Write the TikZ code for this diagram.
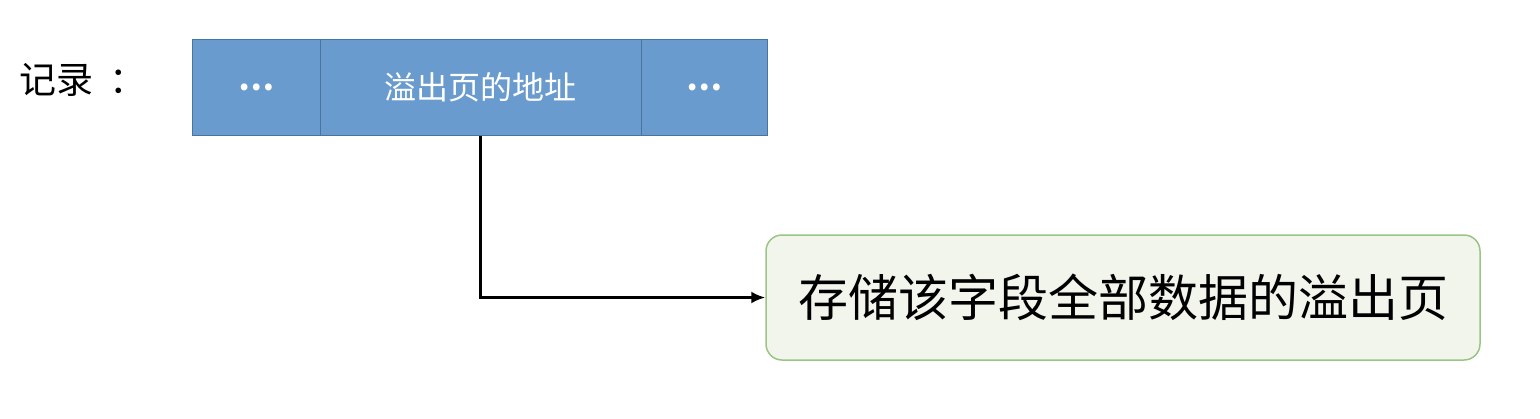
\documentclass[tikz,border=0pt]{standalone}
\usepackage{fontspec}
\newfontfamily\cjk{Noto Sans CJK SC}
\usetikzlibrary{arrows.meta}
\definecolor{cellblue}{HTML}{6A9BCE}
\definecolor{celledge}{HTML}{4A74A0}
\definecolor{gfill}{HTML}{F1F5EC}
\definecolor{gedge}{HTML}{9BC584}
\tikzset{
  cell/.style={draw=celledge, line width=1pt, fill=cellblue, minimum height=96pt, inner sep=0pt, text=white, font=\cjk\fontsize{32}{34}\selectfont},
  pagebox/.style={draw=gedge, line width=1.5pt, fill=gfill, rounded corners=16pt, minimum width=714pt, minimum height=125pt, inner sep=0pt, font=\cjk\fontsize{50}{54}\selectfont},
  conn/.style={line width=2.6pt, -{Latex[length=14pt,width=12pt]}}
}
\begin{document}
\begin{tikzpicture}[x=1pt,y=-1pt]
\useasboundingbox (0,0) rectangle (1540,418);
\node[font=\cjk\fontsize{37}{40}\selectfont, anchor=west, inner sep=0pt] (lbl) at (19,80) {记录\hspace{16pt}：};
\node[cell, minimum width=128pt] (c1) at (256,87) {\textbf{…}};
\node[cell, minimum width=321pt] (c2) at (480.5,87) {溢出页的地址};
\node[cell, minimum width=126pt] (c3) at (704,87) {\textbf{…}};
\node[pagebox] (pg) at (1123,297.5) {存储该字段全部数据的溢出页};
\draw[conn] (c2.south) |- (pg.west);
\end{tikzpicture}
\end{document}
